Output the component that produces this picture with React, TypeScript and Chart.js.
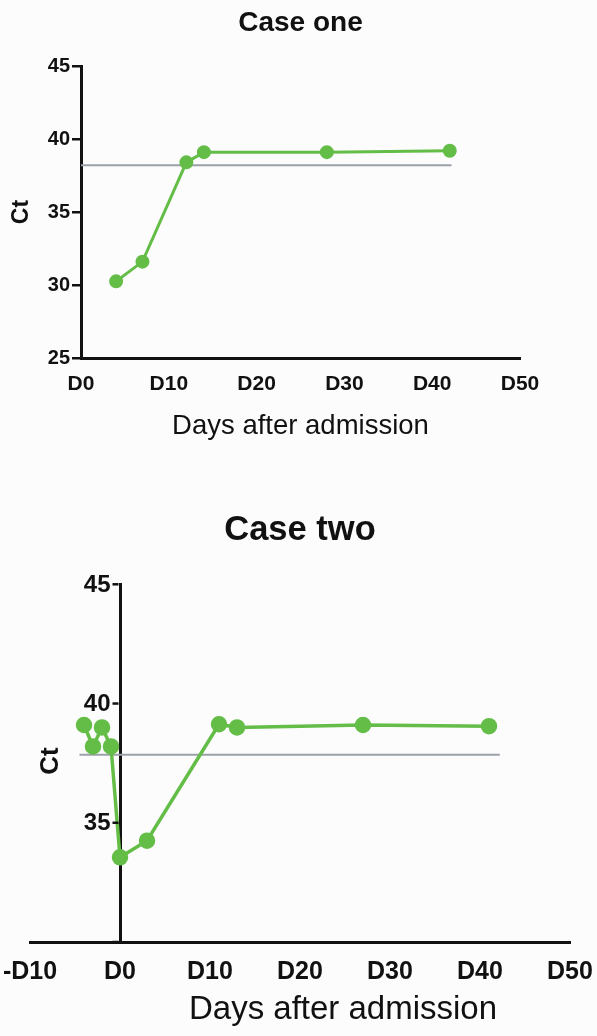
import React, { useEffect, useRef } from "react";
import { Chart, registerables } from "chart.js";

Chart.register(...registerables);

// ---------- data ----------
const caseOneDays = [4, 7, 12, 14, 28, 42];
const caseOneCt = [30.25, 31.6, 38.4, 39.1, 39.1, 39.2];
const caseOneCutoffDays = [0, 42.2];
const caseOneCutoffCt = [38.2, 38.2];
const caseOneYTicks = [25, 30, 35, 40, 45];
const caseOneXTicks = [0, 10, 20, 30, 40, 50];

const caseTwoDays = [-4, -3, -2, -1, 0, 3, 11, 13, 27, 41];
const caseTwoCt = [39.1, 38.2, 39.0, 38.2, 33.55, 34.25, 39.13, 39.0, 39.1, 39.05];
const caseTwoCutoffDays = [-4.5, 42.2];
const caseTwoCutoffCt = [37.85, 37.85];
const caseTwoYTicks = [30, 35, 40, 45];
const caseTwoYLabelled = [35, 40, 45];
const caseTwoXTicks = [-10, 0, 10, 20, 30, 40, 50];

const titleOne = "Case one";
const titleTwo = "Case two";
const xTitle = "Days after admission";
const yTitle = "Ct";

// ---------- styling ----------
const FONT = "'Liberation Sans', Arial, Helvetica, sans-serif";
const GREEN = "#63bd47";
const GREY = "#9ba1a9";
const INK = "#111111";

const dayLabel = (v: number) => (v < 0 ? `-D${-v}` : `D${v}`);
const toPoints = (xs: number[], ys: number[]) => xs.map((x, i) => ({ x, y: ys[i] }));

// Free text (axis titles placed relative to the canvas)
const freeText = {
  id: "freeText",
  afterDraw(chart: any, _args: any, opts: any) {
    const items = (opts && opts.items) || [];
    const ctx = chart.ctx;
    items.forEach((it: any) => {
      ctx.save();
      ctx.font = it.font;
      ctx.fillStyle = it.color || INK;
      ctx.textAlign = "center";
      ctx.textBaseline = "middle";
      ctx.translate(it.x, it.y);
      ctx.rotate(it.rotation || 0);
      ctx.fillText(it.text, 0, 0);
      ctx.restore();
    });
  },
};

// Tick marks + labels for a y axis that crosses the x axis at a data value
const crossingYAxisTicks = {
  id: "crossingYAxisTicks",
  afterDraw(chart: any, _args: any, opts: any) {
    const xs = chart.scales.x;
    const ys = chart.scales.y;
    const ctx = chart.ctx;
    const px = xs.getPixelForValue(opts.at);
    const axisHalf = (opts.axisWidth || 3) / 2;
    ctx.save();
    ctx.strokeStyle = INK;
    ctx.lineWidth = opts.tickWidth || 2;
    ctx.fillStyle = INK;
    ctx.font = opts.font;
    ctx.textAlign = "right";
    ctx.textBaseline = "middle";
    (opts.ticks || []).forEach((v: number) => {
      const py = ys.getPixelForValue(v);
      ctx.beginPath();
      ctx.moveTo(px - axisHalf, py);
      ctx.lineTo(px - axisHalf - opts.tickLength, py);
      ctx.stroke();
      if ((opts.labelled || []).indexOf(v) >= 0) {
        ctx.fillText(String(v), px - axisHalf - opts.tickLength - opts.padding, py + 1);
      }
    });
    ctx.restore();
  },
};

export default function App() {
  const topRef = useRef<HTMLCanvasElement | null>(null);
  const bottomRef = useRef<HTMLCanvasElement | null>(null);

  useEffect(() => {
    Chart.defaults.font.family = FONT;
    Chart.defaults.color = INK;

    const top = new Chart(topRef.current as HTMLCanvasElement, {
      type: "line",
      data: {
        datasets: [
          {
            data: toPoints(caseOneDays, caseOneCt),
            borderColor: GREEN,
            backgroundColor: GREEN,
            pointBackgroundColor: GREEN,
            pointBorderColor: GREEN,
            borderWidth: 3,
            pointRadius: 5.5,
            tension: 0,
            order: 0,
          },
          {
            data: toPoints(caseOneCutoffDays, caseOneCutoffCt),
            borderColor: GREY,
            borderWidth: 2,
            pointRadius: 0,
            tension: 0,
            order: 1,
          },
        ],
      },
      options: {
        animation: false,
        responsive: false,
        devicePixelRatio: 1,
        layout: { padding: { left: 0, right: 77, top: 0, bottom: 17.4 } },
        plugins: {
          legend: { display: false },
          tooltip: { enabled: false },
          title: {
            display: true,
            text: titleOne,
            fullSize: false,
            color: INK,
            font: { size: 28, weight: "bold", family: FONT },
            padding: { top: 6, bottom: 26.4 },
          },
        },
        scales: {
          x: {
            type: "linear",
            min: 0,
            max: 50,
            afterBuildTicks: (s: any) => {
              s.ticks = caseOneXTicks.map((v) => ({ value: v }));
            },
            afterFit: (s: any) => {
              s.height = 84.6;
              s.paddingLeft = 0;
              s.paddingRight = 0;
            },
            grid: { display: false, drawTicks: false },
            border: { display: true, color: INK, width: 3 },
            ticks: {
              padding: 14,
              color: INK,
              maxRotation: 0,
              autoSkip: false,
              font: { size: 21, weight: "bold", family: FONT },
              callback: (v: any) => dayLabel(Number(v)),
            },
            title: {
              display: true,
              text: xTitle,
              color: INK,
              font: { size: 27.5, family: FONT },
              padding: { top: 0, bottom: 0 },
            },
          },
          y: {
            type: "linear",
            min: 25,
            max: 45,
            afterBuildTicks: (s: any) => {
              s.ticks = caseOneYTicks.map((v) => ({ value: v }));
            },
            afterFit: (s: any) => {
              s.width = 81;
            },
            grid: { drawOnChartArea: false, drawTicks: true, tickLength: 9, color: INK, lineWidth: 2.5 },
            border: { display: true, color: INK, width: 3 },
            ticks: {
              padding: 2,
              color: INK,
              autoSkip: false,
              font: { size: 20, weight: "bold", family: FONT },
            },
            title: {
              display: true,
              text: yTitle,
              color: INK,
              font: { size: 23, weight: "bold", family: FONT },
              padding: { top: 7.7, bottom: 0 },
            },
          },
        },
      } as any,
    });

    const bottom = new Chart(bottomRef.current as HTMLCanvasElement, {
      type: "line",
      data: {
        datasets: [
          {
            data: toPoints(caseTwoDays, caseTwoCt),
            borderColor: GREEN,
            backgroundColor: GREEN,
            pointBackgroundColor: GREEN,
            pointBorderColor: GREEN,
            borderWidth: 3.5,
            pointRadius: 6.5,
            tension: 0,
            order: 0,
          },
          {
            data: toPoints(caseTwoCutoffDays, caseTwoCutoffCt),
            borderColor: GREY,
            borderWidth: 2,
            pointRadius: 0,
            tension: 0,
            order: 1,
          },
        ],
      },
      plugins: [freeText, crossingYAxisTicks],
      options: {
        animation: false,
        responsive: false,
        devicePixelRatio: 1,
        layout: { padding: { left: 30, right: 27, top: 0, bottom: 0 } },
        plugins: {
          legend: { display: false },
          tooltip: { enabled: false },
          title: {
            display: true,
            text: titleTwo,
            fullSize: false,
            color: INK,
            font: { size: 34.5, weight: "bold", family: FONT },
            padding: { top: 39.3, bottom: 33.6 },
          },
          freeText: {
            items: [
              { text: yTitle, x: 50.5, y: 291, rotation: -Math.PI / 2, font: `bold 26px ${FONT}` },
              { text: xTitle, x: 343, y: 540, rotation: 0, font: `33px ${FONT}` },
            ],
          },
          crossingYAxisTicks: {
            at: 0,
            ticks: caseTwoYTicks,
            labelled: caseTwoYLabelled,
            tickLength: 6,
            padding: 2,
            axisWidth: 3,
            tickWidth: 2.5,
            font: `bold 24px ${FONT}`,
          },
        },
        scales: {
          x: {
            type: "linear",
            min: -10,
            max: 50,
            afterBuildTicks: (s: any) => {
              s.ticks = caseTwoXTicks.map((v) => ({ value: v }));
            },
            afterFit: (s: any) => {
              s.height = 94;
              s.paddingLeft = 0;
              s.paddingRight = 0;
            },
            grid: { display: false, drawTicks: false },
            border: { display: true, color: INK, width: 3 },
            ticks: {
              padding: 15,
              color: INK,
              maxRotation: 0,
              autoSkip: false,
              font: { size: 25, weight: "bold", family: FONT },
              callback: (v: any) => dayLabel(Number(v)),
            },
          },
          y: {
            type: "linear",
            position: { x: 0 },
            min: 30,
            max: 45,
            afterBuildTicks: (s: any) => {
              s.ticks = caseTwoYTicks.map((v) => ({ value: v }));
            },
            afterFit: (s: any) => {
              s.width = 0;
            },
            grid: { display: false, drawTicks: false },
            border: { display: true, color: INK, width: 3 },
            ticks: { display: false },
          },
        },
      } as any,
    });

    return () => {
      top.destroy();
      bottom.destroy();
    };
  }, []);

  return (
    <div
      style={{
        position: "absolute",
        left: 0,
        top: 0,
        width: 597,
        height: 1036,
        background: "#fcfcfd",
        overflow: "hidden",
      }}
    >
      <canvas
        ref={topRef}
        width={597}
        height={460}
        style={{ position: "absolute", left: 0, top: 0, width: 597, height: 460 }}
      />
      <canvas
        ref={bottomRef}
        width={597}
        height={566}
        style={{ position: "absolute", left: 0, top: 470, width: 597, height: 566 }}
      />
    </div>
  );
}
